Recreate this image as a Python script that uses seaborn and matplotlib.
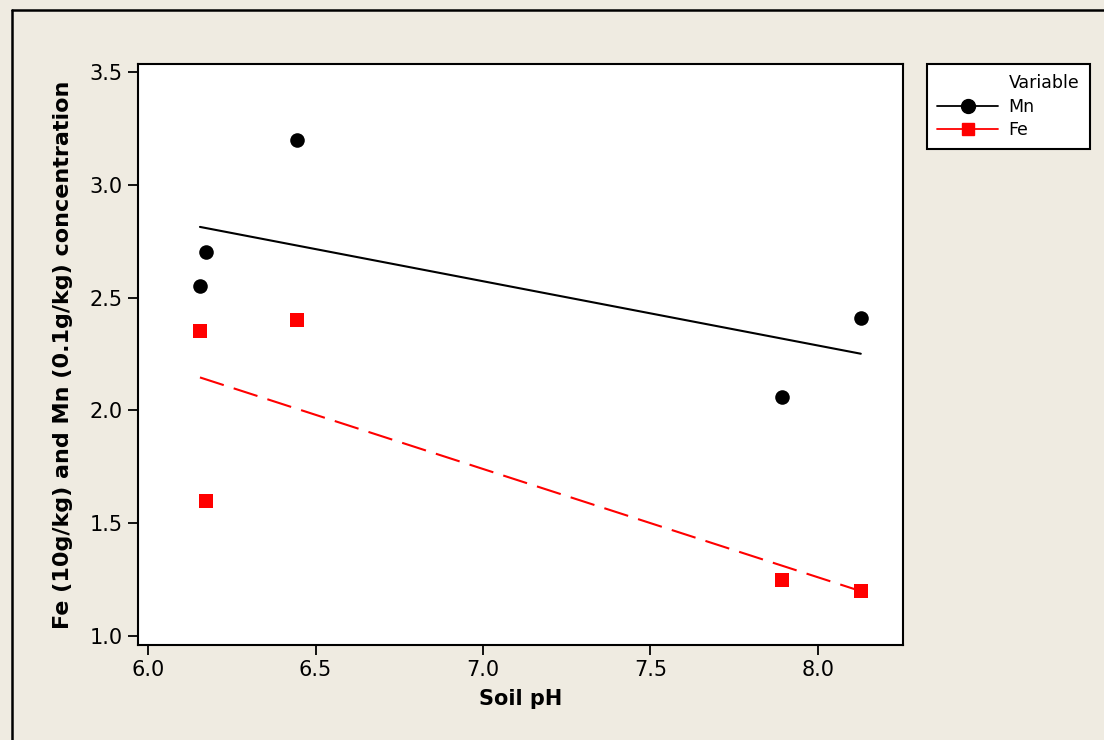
import matplotlib
matplotlib.use("Agg")
import matplotlib.pyplot as plt
from matplotlib.lines import Line2D
import seaborn as sns
import pandas as pd

soil_ph = [6.155, 6.173, 6.445, 7.893, 8.128]
mn_values = [2.55, 2.70, 3.20, 2.06, 2.41]
fe_values = [2.35, 1.60, 2.40, 1.25, 1.20]
x_ticks = [6.0, 6.5, 7.0, 7.5, 8.0]
y_ticks = [1.0, 1.5, 2.0, 2.5, 3.0, 3.5]

sns.set_theme(style="white")
plt.rcParams['font.family'] = ['DejaVu Sans']
plt.rcParams['text.color'] = 'black'
plt.rcParams['axes.labelcolor'] = 'black'

bg = "#EFEBE1"
fig = plt.figure(figsize=(11.04, 7.4), dpi=100, facecolor=bg)
ax = fig.add_axes([138/1104, 1-645/740, (903-138)/1104, (645-64)/740])
ax.set_facecolor("white")

df = pd.DataFrame({"pH": soil_ph, "Mn": mn_values, "Fe": fe_values})

sns.regplot(data=df, x="pH", y="Mn", ax=ax, ci=None, scatter=False,
            line_kws=dict(color="black", lw=1.5))
sns.regplot(data=df, x="pH", y="Fe", ax=ax, ci=None, scatter=False,
            line_kws=dict(color="#FF0000", lw=1.5, dashes=(12, 5)))
sns.scatterplot(data=df, x="pH", y="Mn", ax=ax, color="black", marker="o",
                s=110, edgecolor="black", linewidth=0, zorder=5)
sns.scatterplot(data=df, x="pH", y="Fe", ax=ax, color="#FF0000", marker="s",
                s=100, edgecolor="#FF0000", linewidth=0, zorder=5)

ax.set_xlim(5.970, 8.254)
ax.set_ylim(0.960, 3.535)
ax.set_xticks(x_ticks)
ax.set_xticklabels([f"{t:.1f}" for t in x_ticks])
ax.set_yticks(y_ticks)
ax.set_yticklabels([f"{t:.1f}" for t in y_ticks])
ax.tick_params(axis="both", which="both", direction="out", length=7, width=1.3,
               labelsize=15, colors="black", left=True, bottom=True, pad=4)
for sp in ax.spines.values():
    sp.set_color("black")
    sp.set_linewidth(1.5)
ax.set_xlabel("Soil pH", fontsize=15, fontweight="bold", labelpad=6, color="black")
ax.set_ylabel("Fe (10g/kg) and Mn (0.1g/kg) concentration", fontsize=16,
              fontweight="bold", labelpad=12, color="black")

# Figure frame (left and top edges)
fig.add_artist(Line2D([11.5/1104, 11.5/1104], [0, 1-10/740], transform=fig.transFigure,
                      color="black", lw=1.8))
fig.add_artist(Line2D([11.5/1104, 1], [1-10/740, 1-10/740], transform=fig.transFigure,
                      color="black", lw=1.8))

handles = [Line2D([], [], linestyle="none"),
           Line2D([], [], color="black", marker="o", markersize=10, lw=1.3),
           Line2D([], [], color="#FF0000", marker="s", markersize=9, lw=1.3)]
labels = ["Variable", "Mn", "Fe"]
leg = fig.legend(handles, labels, loc="upper left",
                 bbox_to_anchor=(927/1104, 1-64/740), bbox_transform=fig.transFigure,
                 frameon=True, fancybox=False, fontsize=12.5, handlelength=3.5,
                 borderpad=0.6, labelspacing=0.3, handletextpad=0.6,
                 borderaxespad=0, framealpha=1)
leg.get_frame().set_edgecolor("black")
leg.get_frame().set_linewidth(1.5)
leg.get_frame().set_facecolor("white")
for t in leg.get_texts():
    t.set_color("black")

fig.savefig("out.png", dpi=100, facecolor=bg)
